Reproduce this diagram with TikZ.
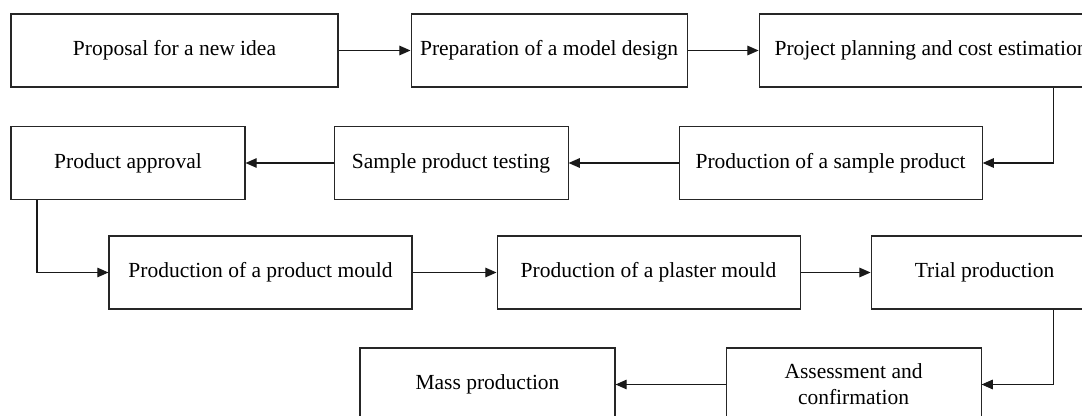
\documentclass[tikz,border=0pt]{standalone}
\usepackage{fontspec}
\setmainfont{Liberation Serif}
\usetikzlibrary{arrows.meta, positioning}
\tikzset{
  flow box/.style={
    rectangle, draw=black!85, line width=0.75pt, fill=white,
    minimum height=1.825cm, text centered, align=center,
    font=\fontsize{15.3}{18.4}\selectfont, inner sep=2pt
  },
  flow arrow/.style={
    -{Triangle[length=2.8mm, width=2.4mm]}, line width=0.8pt, draw=black!90
  }
}
\begin{document}
\begin{tikzpicture}
  \path [use as bounding box, clip] (0,0) rectangle (27.05,-10.4);

  % first row, left to right
  \node (idea) [flow box, minimum width=8.175cm] at (4.3625,-1.2625) {Proposal for a new idea};
  \node (design) [flow box, minimum width=6.9cm, right=1.8cm of idea] {Preparation of a model design};
  \node (plan) [flow box, minimum width=8.6cm, right=1.775cm of design] {Project planning and cost estimation};

  % second row, runs right to left
  \node (approval) [flow box, minimum width=5.85cm] at (3.2,-4.075) {Product approval};
  \node (testing) [flow box, minimum width=5.85cm, right=2.2cm of approval] {Sample product testing};
  \node (sample) [flow box, minimum width=7.575cm, right=2.75cm of testing] {Production of a sample product};

  % third row
  \node (mould) [flow box, minimum width=7.575cm] at (6.5125,-6.8125) {Production of a product mould};
  \node (plaster) [flow box, minimum width=7.575cm, right=2.1cm of mould] {Production of a plaster mould};
  \node (trial) [flow box, minimum width=5.675cm, right=1.75cm of plaster] {Trial production};

  % last row
  \node (mass) [flow box, minimum width=6.375cm] at (12.1875,-9.6125) {Mass production};
  \node (assess) [flow box, minimum width=6.375cm, right=2.75cm of mass] {Assessment and\\confirmation};

  \draw [flow arrow] (idea) -- (design);
  \draw [flow arrow] (design) -- (plan);
  \draw [flow arrow] ([xshift=3.05cm]plan.south) |- (sample.east);
  \draw [flow arrow] (sample) -- (testing);
  \draw [flow arrow] (testing) -- (approval);
  \draw [flow arrow] ([xshift=-2.275cm]approval.south) |- (mould.west);
  \draw [flow arrow] (mould) -- (plaster);
  \draw [flow arrow] (plaster) -- (trial);
  \draw [flow arrow] ([xshift=1.7125cm]trial.south) |- (assess.east);
  \draw [flow arrow] (assess) -- (mass);
\end{tikzpicture}
\end{document}
